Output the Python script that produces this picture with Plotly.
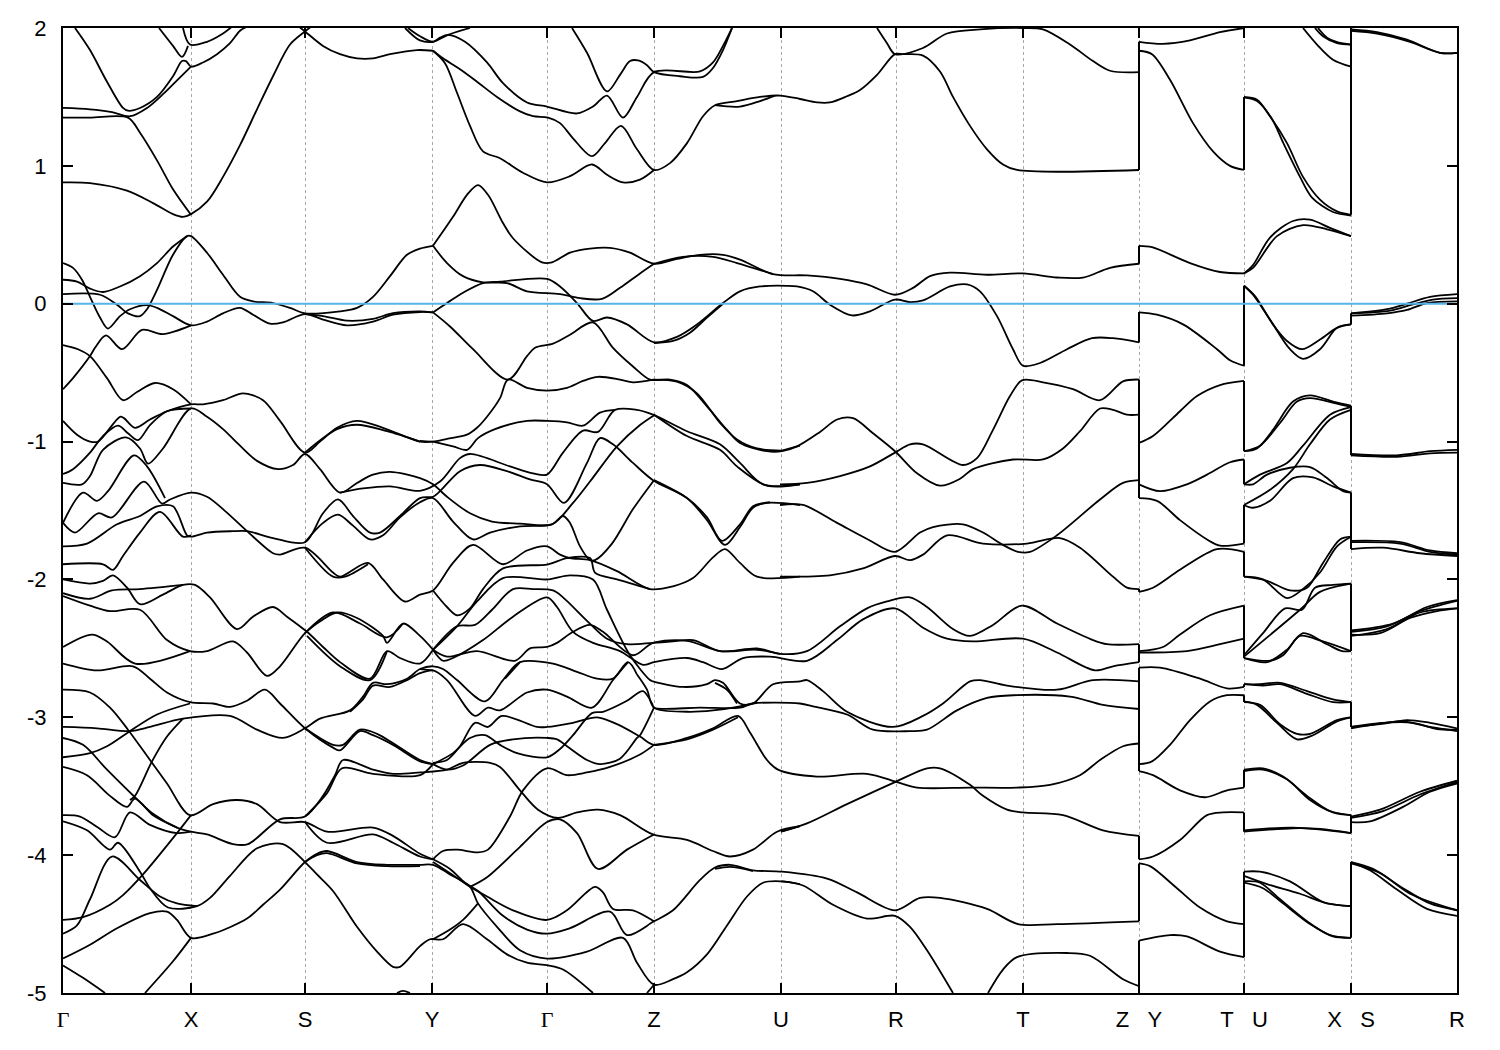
import plotly.graph_objects as go

# k-path positions of the high-symmetry points and their labels
k_ticks = [63, 191, 305, 432, 547, 654, 781, 896, 1023, 1139, 1244, 1351, 1457]
GAP = "\u00a0\u00a0\u00a0"
k_labels = ['<span style="font-family:Liberation Serif">Γ</span>', "X", "S", "Y",
            '<span style="font-family:Liberation Serif">Γ</span>', "Z", "U", "R", "T",
            "Z" + GAP + "Y", "T" + GAP + "U", "X" + GAP + "S", "R"]
e_ticks = [2, 1, 0, -1, -2, -3, -4, -5]
e_labels = ["2", "1", "0", "-1", "-2", "-3", "-4", "-5"]

# --- Gamma-X-S-Y, upper bands
band_001 = [(75,2.0),(90,1.84),(107,1.61),(123,1.42),(128,1.40),(140,1.42),(157,1.50),(173,1.65),(182,1.76),(186,1.76),(191,1.72),(203,1.75),(217,1.81),(230,1.89),(240,1.98),(247,2.01)]
band_002 = [(63,1.42),(90,1.41),(112,1.39),(130,1.36),(147,1.42),(163,1.52),(177,1.62),(191,1.72)]
band_003 = [(63,1.35),(90,1.35),(128,1.35),(140,1.24),(157,1.04),(173,.83),(191,.645)]
band_004 = [(63,.88),(90,.875),(127,.82),(153,.73),(173,.65),(183,.63),(191,.65),(207,.74),(223,.92),(240,1.15),(257,1.41),(273,1.65),(290,1.88),(305,1.975),(313,2.02)]
band_005 = [(297,2.02),(305,1.975),(323,1.87),(340,1.81),(357,1.78),(373,1.78),(390,1.81),(417,1.84),(433,1.835)]
band_006 = [(159,2.0),(173,1.87),(182,1.79),(188,1.87)]
band_007 = [(183,2.0),(190,1.88),(207,1.90),(223,1.96),(232,2.01)]
# --- near the Fermi level
band_008 = [(63,.295),(73,.26),(82,.174),(90,.05),(100,-.10),(108,-.18),(120,-.09),(130,-.04),(147,-.01),(157,-.03),(173,-.09),(191,-.157),(207,-.13),(223,-.07),(240,-.03),(253,-.08),(270,-.145),(283,-.135),(305,-.075),(323,-.115),(347,-.157),(373,-.13),(393,-.08),(420,-.06),(433,-.063)]
band_009 = [(305,-.075),(323,-.09),(347,-.123),(373,-.11),(393,-.068),(420,-.055),(433,-.063)]
band_010 = [(63,.07),(100,.065),(117,-.007),(128,-.07),(140,-.09),(147,-.04),(157,.10),(173,.355),(187,.49),(191,.49),(207,.37),(223,.21),(240,.05),(253,.017),(273,.005),(290,-.03),(305,-.07),(340,-.055),(357,-.03),(373,.05),(390,.2),(407,.355),(420,.40),(433,.42)]
band_011 = [(63,.174),(77,.16),(90,.11),(103,.085),(120,.125),(140,.2),(157,.295),(173,.415),(187,.49)]
band_012 = [(63,-.30),(78,-.33),(90,-.38),(107,-.54),(123,-.70),(137,-.64),(155,-.575),(173,-.62),(191,-.73)]
band_013 = [(63,-.62),(73,-.54),(90,-.38),(95,-.32),(106,-.23),(122,-.33),(142,-.19),(163,-.22),(191,-.157)]
# --- Gamma-X-S-Y, valence
band_014 = [(63,-.85),(77,-.95),(90,-1.0),(98,-1.0),(120,-.82),(124,-.83),(135,-.90),(150,-.84),(167,-.78),(191,-.73),(203,-.73),(223,-.70),(243,-.65),(263,-.70),(280,-.85),(305,-1.08),(320,-1.0),(337,-.90),(357,-.85),(383,-.90),(420,-1.0),(433,-1.0)]
band_015 = [(305,-1.08),(337,-.91),(357,-.878),(387,-.925),(420,-1.0)]
band_016 = [(63,-1.235),(73,-1.2),(90,-1.08),(103,-.96),(118,-.885),(128,-.94),(138,-.99),(150,-.88),(167,-.78),(191,-.76)]
band_017 = [(63,-1.30),(82,-1.31),(90,-1.25),(103,-1.06),(126,-.97),(140,-1.05),(148,-1.16),(163,-1.05),(191,-.76),(207,-.82),(223,-.91),(240,-1.03),(257,-1.14),(278,-1.20),(293,-1.17),(305,-1.09),(320,-1.2),(340,-1.37),(357,-1.30),(373,-1.24),(390,-1.22),(420,-1.265),(433,-1.31),(447,-1.40),(470,-1.52),(492,-1.58),(520,-1.595),(552,-1.60),(573,-1.445),(590,-1.29),(617,-1.035),(640,-.88),(655,-.805)]
band_018 = [(340,-1.37),(363,-1.34),(390,-1.325),(420,-1.357),(440,-1.29),(460,-1.12),(470,-1.09),(510,-1.18),(533,-1.23),(547,-1.24),(563,-1.08),(583,-.92),(598,-.93),(615,-.77),(637,-.77),(653,-.805),(687,-.925),(720,-1.02),(740,-1.155),(763,-1.31),(800,-1.31)]
band_019 = [(63,-1.59),(83,-1.37),(97,-1.43),(108,-1.36),(134,-1.10),(147,-1.18),(165,-1.41)]
band_020 = [(63,-1.59),(75,-1.66),(98,-1.52),(112,-1.55),(144,-1.29),(162,-1.45),(170,-1.42),(191,-1.37),(207,-1.40),(223,-1.49),(247,-1.65),(273,-1.81),(280,-1.82),(305,-1.77),(333,-1.95),(340,-1.98),(368,-1.88),(383,-2.0),(405,-2.16),(420,-2.11),(433,-2.08),(453,-1.88),(473,-1.75),(503,-1.89),(527,-1.79),(547,-1.76),(560,-1.82),(570,-1.845),(590,-1.86),(617,-1.94),(650,-2.07),(673,-2.05),(693,-1.99),(713,-1.84),(725,-1.78),(740,-1.88),(757,-1.98),(800,-1.98)]
band_021 = [(63,-1.76),(87,-1.74),(117,-1.60),(140,-1.54),(157,-1.47),(173,-1.47),(187,-1.68),(191,-1.69),(207,-1.66),(233,-1.65),(247,-1.65),(273,-1.70),(305,-1.73),(323,-1.52),(338,-1.42),(353,-1.54),(370,-1.66),(380,-1.66),(400,-1.54),(420,-1.41),(433,-1.40),(440,-1.36),(460,-1.215),(480,-1.17),(507,-1.215),(530,-1.275),(547,-1.31),(564,-1.445),(587,-1.155),(600,-.975),(613,-1.02),(633,-1.155),(653,-1.28),(687,-1.41),(707,-1.57),(725,-1.75),(740,-1.62),(753,-1.48),(767,-1.445),(800,-1.46)]
band_022 = [(63,-1.89),(103,-1.89),(113,-1.93),(123,-1.83),(140,-1.66),(160,-1.51),(183,-1.69),(191,-1.68)]
band_023 = [(305,-1.73),(323,-1.59),(338,-1.53),(353,-1.61),(370,-1.71),(383,-1.68),(400,-1.55),(420,-1.44),(433,-1.41),(453,-1.58),(473,-1.71),(490,-1.66),(520,-1.615),(552,-1.60),(563,-1.54),(570,-1.59),(580,-1.76),(590,-1.86),(595,-1.86),(612,-1.74),(633,-1.49),(654,-1.28)]
band_024 = [(305,-1.77),(333,-1.98),(345,-1.98),(368,-1.89)]
band_025 = [(63,-2.0),(90,-2.03),(103,-2.01),(113,-1.97),(127,-2.06),(140,-2.18),(163,-2.11),(183,-2.04),(195,-2.04),(210,-2.13),(237,-2.36),(253,-2.27),(273,-2.2),(287,-2.27),(307,-2.38),(323,-2.49),(340,-2.6),(370,-2.72),(387,-2.52),(400,-2.57),(420,-2.61),(433,-2.51)]
band_026 = [(63,-2.10),(90,-2.14),(112,-2.08),(140,-2.07),(183,-2.04)]
band_027 = [(63,-2.12),(90,-2.19),(110,-2.23),(140,-2.22),(167,-2.44),(190,-2.52),(207,-2.52),(233,-2.45),(247,-2.53),(267,-2.70),(280,-2.63),(305,-2.39),(323,-2.29),(337,-2.24),(357,-2.28),(383,-2.41),(387,-2.46),(403,-2.32),(420,-2.41),(433,-2.51)]
band_028 = [(305,-2.39),(333,-2.24),(360,-2.32),(387,-2.42),(403,-2.32)]
band_029 = [(307,-2.41),(340,-2.63),(370,-2.73),(387,-2.52)]
band_030 = [(63,-2.49),(92,-2.40),(107,-2.45),(135,-2.61),(190,-2.52)]
band_031 = [(63,-2.61),(97,-2.66),(133,-2.63),(150,-2.72),(167,-2.82),(190,-2.89),(213,-2.90),(230,-2.925),(247,-2.88),(265,-2.80),(280,-2.90),(305,-3.08),(333,-3.22),(340,-3.24),(360,-3.10),(373,-3.13),(393,-3.2),(420,-3.32),(433,-3.34)]
band_032 = [(305,-3.08),(333,-3.2),(343,-3.2),(360,-3.09),(377,-3.12),(420,-3.31),(433,-3.34)]
band_033 = [(63,-2.80),(90,-2.82),(110,-2.93),(128,-3.09),(150,-3.31),(167,-3.48),(190,-3.71),(213,-3.63),(237,-3.60),(257,-3.63),(280,-3.76),(305,-3.76),(327,-3.83),(373,-3.80),(393,-3.86),(420,-3.99),(433,-4.03)]
band_034 = [(305,-3.76),(327,-3.91),(373,-3.85),(393,-3.91),(420,-4.01),(433,-4.03)]
band_035 = [(63,-3.07),(97,-3.08),(130,-3.10),(150,-3.07),(183,-3.01),(230,-2.99),(257,-3.09),(283,-3.15),(305,-3.08),(320,-3.01),(350,-2.95),(363,-2.85),(373,-2.75),(387,-2.76),(407,-2.72),(420,-2.65),(433,-2.63),(443,-2.65),(457,-2.73),(485,-2.885),(503,-2.73),(520,-2.6),(553,-2.61),(577,-2.67),(597,-2.72),(613,-2.72),(628,-2.6),(637,-2.69)]
band_036 = [(350,-2.96),(363,-2.87),(373,-2.77),(390,-2.78),(407,-2.73),(420,-2.68),(433,-2.66),(447,-2.73),(475,-2.99),(488,-2.93),(500,-2.95),(527,-2.82),(547,-2.80),(567,-2.85),(592,-2.93),(613,-2.73),(628,-2.6)]
band_037 = [(63,-3.15),(83,-3.2),(107,-3.38),(135,-3.58),(153,-3.70),(177,-3.80),(191,-3.83),(207,-3.85),(233,-3.92),(248,-3.92),(280,-3.74),(305,-3.72),(323,-3.57),(335,-3.42),(343,-3.31),(373,-3.38),(393,-3.41),(420,-3.40),(447,-3.38),(463,-3.33),(490,-3.33),(500,-3.36),(520,-3.53),(538,-3.67),(558,-3.73),(577,-3.69),(598,-3.67),(620,-3.71),(653,-3.85),(687,-3.89),(713,-3.97),(730,-4.01),(753,-3.96),(777,-3.83),(800,-3.79)]
band_038 = [(305,-3.72),(327,-3.55),(342,-3.37),(373,-3.41),(420,-3.42),(433,-3.34)]
band_039 = [(63,-3.29),(90,-3.26),(107,-3.21),(128,-3.11),(157,-2.98),(190,-2.90)]
band_040 = [(63,-3.36),(87,-3.42),(110,-3.57),(127,-3.65),(135,-3.59),(153,-3.71),(177,-3.80)]
band_041 = [(130,-3.60),(135,-3.57),(152,-3.32),(167,-3.14),(183,-3.01)]
band_042 = [(63,-3.71),(80,-3.72),(98,-3.80),(115,-3.87),(130,-3.69),(150,-3.78),(177,-3.84),(191,-3.83)]
band_043 = [(63,-3.755),(87,-3.82),(110,-3.96),(118,-3.91),(140,-4.12),(150,-4.24),(168,-4.38),(197,-4.37),(210,-4.31),(230,-4.15),(257,-3.95),(283,-3.92),(305,-4.05),(317,-4.14),(333,-4.26),(357,-4.52),(377,-4.70),(393,-4.81),(400,-4.81),(420,-4.66),(430,-4.61),(443,-4.61),(463,-4.50),(487,-4.61),(507,-4.72),(527,-4.78),(548,-4.80),(563,-4.83),(593,-5.0)]
band_044 = [(63,-4.57),(77,-4.51),(90,-4.32),(112,-4.01),(140,-4.18),(160,-4.30),(177,-4.35),(197,-4.37)]
band_045 = [(63,-4.47),(83,-4.45),(110,-4.36),(123,-4.29),(143,-4.14),(177,-3.84),(191,-3.71)]
band_046 = [(63,-4.75),(90,-4.65),(117,-4.53),(150,-4.42),(167,-4.41),(177,-4.47),(191,-4.60),(213,-4.57),(247,-4.46),(263,-4.36),(280,-4.25),(305,-4.05),(317,-3.99),(327,-3.97),(357,-4.05),(387,-4.07),(420,-4.07),(433,-4.07),(450,-4.14),(470,-4.23),(478,-4.35),(497,-4.52),(520,-4.69),(547,-4.75),(587,-4.70),(623,-4.6),(637,-4.78),(654,-4.94),(673,-4.90),(687,-4.85),(707,-4.72),(727,-4.51),(747,-4.30),(763,-4.20),(782,-4.19),(800,-4.21)]
band_047 = [(305,-4.05),(317,-4.0),(327,-3.985),(357,-4.06),(387,-4.08),(420,-4.08)]
band_048 = [(63,-4.80),(83,-4.89),(105,-5.0)]
band_049 = [(145,-5.0),(173,-4.77),(191,-4.60)]
band_050 = [(397,-5.0),(403,-4.985),(410,-5.0)]
# --- Y-Gamma-Z-U
band_051 = [(408,2.0),(420,1.94),(433,1.90),(440,1.93),(448,1.95),(465,1.90),(487,1.75),(503,1.60),(527,1.46),(547,1.43),(577,1.38),(593,1.43),(607,1.51),(623,1.35),(637,1.50),(654,1.68),(700,1.685),(713,1.75),(723,1.87),(732,2.0)]
band_052 = [(405,2.0),(420,1.91),(433,1.90),(448,1.95),(470,2.0)]
band_053 = [(433,1.835),(443,1.78),(460,1.70),(477,1.61),(497,1.50),(520,1.395),(533,1.36),(548,1.35),(560,1.31),(573,1.20),(592,1.07),(605,1.165),(621,1.29),(637,1.12),(654,.97),(670,1.02),(687,1.165),(703,1.36),(715,1.44),(737,1.47),(760,1.50),(780,1.51),(800,1.485),(817,1.46),(830,1.46),(847,1.505),(860,1.55),(877,1.66),(895,1.81),(903,1.81),(923,1.80),(940,1.685),(953,1.50),(970,1.29),(987,1.12),(1003,1.01),(1017,.97),(1139,.97)]
band_054 = [(715,1.44),(740,1.43),(760,1.47),(775,1.51)]
band_055 = [(433,1.835),(445,1.745),(457,1.53),(470,1.29),(483,1.105),(500,1.055),(523,.95),(547,.88),(570,.925),(592,1.01),(607,.935),(623,.88),(640,.90),(654,.97)]
band_056 = [(572,2.0),(587,1.82),(607,1.54),(620,1.66),(630,1.76),(638,1.765),(647,1.73),(654,1.68),(680,1.65),(703,1.645),(713,1.71),(723,1.84),(732,2.0)]
band_057 = [(433,.42),(453,.63),(467,.79),(478,.86),(488,.79),(503,.585),(513,.475),(542,.30),(552,.30),(570,.37),(590,.40),(610,.405),(630,.37),(654,.29),(677,.325),(700,.355),(723,.355),(740,.32),(773,.215),(807,.205),(840,.18),(867,.14),(895,.065),(913,.115),(930,.2),(950,.225),(987,.21),(1023,.22),(1057,.19),(1083,.19),(1110,.26),(1139,.29)]
band_058 = [(654,.29),(683,.34),(713,.34),(737,.295),(773,.215)]
band_059 = [(433,.42),(447,.295),(463,.2),(483,.155),(507,.15),(527,.09),(560,.07),(580,.04),(602,.035),(620,.115),(640,.22),(654,.29)]
band_060 = [(433,-.063),(447,.005),(463,.08),(483,.15),(500,.16),(547,.18),(560,.125),(577,.005),(593,-.125),(607,-.10),(627,-.15),(654,-.28),(677,-.24),(697,-.15),(723,.005),(740,.09),(760,.125),(787,.13),(797,.125),(813,.09),(830,-.007),(852,-.085),(870,-.055),(895,.03),(910,.012),(923,.024),(950,.125),(967,.14),(980,.09),(997,-.09),(1013,-.33),(1023,-.45),(1040,-.43),(1067,-.33),(1092,-.25),(1113,-.25),(1139,-.28)]
band_061 = [(654,-.285),(673,-.27),(690,-.21),(707,-.10),(723,.0)]
band_062 = [(433,-.063),(450,-.165),(473,-.33),(508,-.55),(527,-.38),(535,-.32),(553,-.29),(570,-.225),(593,-.135),(613,-.32),(633,-.455),(650,-.55),(670,-.55),(687,-.59),(707,-.745),(727,-.915),(740,-1.01),(767,-1.07),(782,-1.07),(797,-1.035),(820,-.93),(837,-.84),(853,-.83),(873,-.94),(895,-1.07),(917,-1.23),(940,-1.32),(960,-1.27),(973,-1.20),(1013,-1.13),(1043,-1.13),(1063,-1.05),(1080,-.925),(1100,-.76),(1113,-.77),(1127,-.805),(1139,-.805)]
band_063 = [(653,-.55),(677,-.565),(697,-.65),(720,-.865),(737,-.985),(757,-1.05),(782,-1.065)]
band_064 = [(420,-.995),(433,-1.0),(447,-.98),(467,-.95),(477,-.90),(487,-.82),(500,-.685),(508,-.55),(527,-.61),(547,-.63),(567,-.61),(583,-.56),(598,-.53),(620,-.55),(633,-.57),(653,-.55)]
band_065 = [(433,-1.0),(453,-1.035),(467,-1.06),(478,-.975),(495,-.91),(527,-.85),(547,-.85),(567,-.86),(583,-.885),(600,-.79),(615,-.77)]
band_066 = [(654,-.805),(687,-.96),(720,-1.06),(737,-1.18),(767,-1.32),(800,-1.31)]
band_067 = [(654,-1.28),(687,-1.41),(707,-1.55),(722,-1.72),(740,-1.60),(753,-1.47),(770,-1.44)]
band_068 = [(420,-2.65),(433,-2.66)]
band_069 = [(433,-2.08),(447,-2.2),(457,-2.26),(470,-2.21),(483,-2.07),(503,-1.92),(548,-1.89),(567,-1.845),(590,-1.845),(595,-1.95),(617,-2.0),(650,-2.07)]
band_070 = [(433,-2.51),(457,-2.34),(477,-2.16),(503,-1.99),(547,-2.0),(570,-1.97),(593,-2.0),(607,-2.22),(630,-2.55),(650,-2.73),(653,-2.74),(683,-2.78),(707,-2.76),(715,-2.73),(723,-2.75),(740,-2.9),(753,-2.9),(773,-2.76),(800,-2.74),(807,-2.73),(823,-2.81),(847,-2.96),(893,-3.07),(923,-2.99),(943,-2.90),(970,-2.74),(980,-2.73),(1007,-2.77),(1057,-2.80),(1093,-2.73),(1139,-2.74)]
band_071 = [(433,-2.51),(457,-2.34),(475,-2.33),(492,-2.22),(513,-2.07),(533,-2.07),(553,-2.08),(563,-2.13),(587,-2.30),(607,-2.43),(627,-2.47),(653,-2.46),(673,-2.45),(693,-2.44),(720,-2.52),(757,-2.50),(780,-2.54),(807,-2.52),(840,-2.34),(867,-2.21),(887,-2.16),(910,-2.13),(927,-2.2),(953,-2.36),(970,-2.41),(993,-2.33),(1022,-2.19),(1057,-2.32),(1093,-2.44),(1107,-2.47),(1139,-2.47)]
band_072 = [(433,-2.51),(443,-2.59),(453,-2.57),(483,-2.44),(513,-2.27),(547,-2.13),(557,-2.2),(573,-2.38),(593,-2.46),(620,-2.52),(643,-2.62),(654,-2.60),(687,-2.57),(703,-2.6),(722,-2.65),(743,-2.57),(770,-2.56),(807,-2.59),(837,-2.44),(863,-2.29),(895,-2.21),(923,-2.35),(947,-2.43),(973,-2.45),(1023,-2.43),(1057,-2.53),(1095,-2.66),(1113,-2.63),(1139,-2.60)]
band_073 = [(433,-2.51),(447,-2.56),(477,-2.52),(515,-2.59),(530,-2.5),(547,-2.49),(557,-2.46),(573,-2.38),(590,-2.33),(603,-2.38),(633,-2.55),(653,-2.46),(687,-2.445),(720,-2.52),(757,-2.51),(780,-2.54)]
band_074 = [(505,-2.72),(520,-2.6)]
band_075 = [(433,-3.33),(447,-3.31),(460,-3.21),(475,-3.04),(488,-3.07),(502,-2.99),(537,-3.07),(547,-3.07),(573,-3.04),(597,-3.0),(617,-3.05),(640,-3.14),(654,-3.20),(687,-3.15),(713,-3.08),(738,-2.99),(750,-3.11),(767,-3.31),(778,-3.38),(817,-3.43),(867,-3.41),(897,-3.47),(917,-3.51),(970,-3.51),(1017,-3.51),(1050,-3.49),(1080,-3.42),(1100,-3.31),(1123,-3.21),(1139,-3.19)]
band_076 = [(433,-3.34),(453,-3.26),(470,-3.15),(485,-3.13),(500,-3.2),(517,-3.26),(547,-3.29),(560,-3.23),(573,-3.13),(592,-2.97),(603,-2.96),(627,-2.88),(643,-2.81),(652,-2.90),(654,-2.93),(700,-2.93),(740,-2.93),(753,-2.9),(800,-2.90),(813,-2.92),(847,-2.98),(873,-3.09),(910,-3.10),(927,-3.09),(957,-2.95),(987,-2.86),(1013,-2.84),(1070,-2.85),(1103,-2.91),(1139,-2.94)]
band_077 = [(433,-3.34),(447,-3.38),(463,-3.35),(490,-3.2),(513,-3.16),(547,-3.15),(557,-3.16),(567,-3.21),(587,-3.31),(600,-3.34),(620,-3.30),(637,-3.15),(640,-3.13),(654,-2.93)]
band_078 = [(637,-2.69),(647,-2.80),(654,-2.93),(687,-2.96),(713,-2.95),(740,-2.92),(757,-2.89)]
band_079 = [(433,-4.03),(443,-3.97),(457,-3.96),(478,-3.98),(488,-3.96),(510,-3.72),(523,-3.53),(547,-3.37),(567,-3.42),(587,-3.40),(610,-3.36),(640,-3.27),(654,-3.20)]
band_080 = [(470,-4.23),(487,-4.16),(520,-3.94),(547,-3.76),(560,-3.74),(577,-3.84),(598,-4.10),(627,-3.96),(654,-3.85)]
band_081 = [(433,-4.05),(458,-4.17),(470,-4.23),(487,-4.30),(513,-4.40),(547,-4.47),(567,-4.40),(595,-4.23),(603,-4.27),(613,-4.39),(633,-4.40),(654,-4.48)]
band_082 = [(433,-4.03),(450,-4.1),(465,-4.2),(478,-4.26),(503,-4.44),(527,-4.54),(547,-4.57),(570,-4.53),(610,-4.41),(627,-4.58),(654,-4.48),(673,-4.40),(700,-4.18),(715,-4.09),(730,-4.07),(753,-4.11),(782,-4.12),(827,-4.17),(857,-4.27),(895,-4.40),(920,-4.31),(940,-4.31),(987,-4.39),(1018,-4.50),(1057,-4.50),(1139,-4.48)]
band_083 = [(433,-4.61),(450,-4.54),(463,-4.47),(478,-4.35)]
band_084 = [(647,-5.0),(654,-4.94)]
band_085 = [(654,-3.20),(687,-3.16),(713,-3.09),(738,-3.0)]
band_086 = [(715,-2.75),(727,-2.8),(737,-2.9)]
band_087 = [(715,-4.10),(730,-4.085),(753,-4.115)]
band_088 = [(782,-4.19),(803,-4.22),(833,-4.36),(867,-4.46),(895,-4.44),(910,-4.52),(927,-4.69),(953,-5.0)]
# --- U-R-T-Z
band_089 = [(877,2.0),(887,1.89),(895,1.81),(923,1.855),(947,1.96),(980,1.99),(1023,2.0),(1043,1.99),(1070,1.88),(1093,1.76),(1110,1.69),(1139,1.68)]
band_090 = [(780,-1.31),(807,-1.30),(840,-1.25),(870,-1.18),(895,-1.08),(910,-1.02),(923,-1.02),(963,-1.17),(977,-1.12),(993,-.915),(1010,-.67),(1022,-.556),(1043,-.57),(1073,-.62),(1100,-.70),(1123,-.563),(1139,-.55)]
band_091 = [(780,-1.46),(803,-1.46),(837,-1.59),(868,-1.71),(895,-1.80),(920,-1.66),(933,-1.62),(963,-1.60),(983,-1.66),(1003,-1.75),(1018,-1.80),(1030,-1.80),(1057,-1.68),(1100,-1.42),(1123,-1.30),(1139,-1.28)]
band_092 = [(780,-1.98),(830,-1.97),(863,-1.92),(895,-1.83),(910,-1.86),(923,-1.82),(947,-1.68),(983,-1.74),(1027,-1.74),(1060,-1.70),(1080,-1.77),(1113,-1.98),(1127,-2.06),(1139,-2.07)]
band_094 = [(781,-3.83),(807,-3.77),(847,-3.63),(895,-3.47),(927,-3.37),(940,-3.37),(970,-3.49),(983,-3.57),(1007,-3.67),(1023,-3.69),(1063,-3.71),(1103,-3.82),(1139,-3.86)]
band_095 = [(800,-3.79),(781,-3.83)]
band_096 = [(800,-1.03),(780,-1.07)]
band_097 = [(988,-5.0),(1003,-4.83),(1017,-4.74),(1067,-4.71),(1090,-4.73),(1123,-4.90),(1139,-4.95)]
# --- Y-T
band_101 = [(1139,1.90),(1163,1.885),(1190,1.91),(1220,1.97),(1244,2.0)]
band_102 = [(1139,1.835),(1152,1.81),(1170,1.625),(1193,1.31),(1213,1.105),(1230,1.0),(1244,.97)]
band_103 = [(1139,.42),(1152,.41),(1190,.295),(1220,.23),(1244,.22)]
band_104 = [(1139,-.063),(1157,-.08),(1183,-.15),(1217,-.33),(1230,-.41),(1244,-.45)]
band_105 = [(1139,-1.01),(1153,-.96),(1180,-.78),(1197,-.67),(1220,-.59),(1244,-.56)]
band_106 = [(1139,-1.31),(1160,-1.36),(1187,-1.31),(1207,-1.24),(1230,-1.15),(1244,-1.13)]
band_107 = [(1139,-1.41),(1157,-1.43),(1180,-1.57),(1207,-1.71),(1220,-1.755),(1244,-1.74)]
band_108 = [(1139,-2.09),(1153,-2.06),(1180,-1.93),(1217,-1.78),(1244,-1.80)]
band_109 = [(1139,-2.52),(1163,-2.49),(1180,-2.40),(1210,-2.26),(1244,-2.19)]
band_110 = [(1139,-2.53),(1187,-2.52),(1220,-2.47),(1244,-2.43)]
band_111 = [(1139,-2.64),(1160,-2.64),(1200,-2.72),(1227,-2.79),(1244,-2.78)]
band_112 = [(1139,-3.34),(1152,-3.32),(1170,-3.2),(1190,-3.02),(1210,-2.885),(1227,-2.84),(1244,-2.84)]
band_113 = [(1139,-3.39),(1153,-3.42),(1180,-3.53),(1205,-3.58),(1227,-3.53),(1244,-3.51)]
band_114 = [(1139,-4.03),(1153,-4.01),(1180,-3.89),(1207,-3.71),(1223,-3.69),(1244,-3.69)]
band_115 = [(1139,-4.06),(1150,-4.08),(1177,-4.24),(1200,-4.38),(1227,-4.48),(1244,-4.50)]
band_116 = [(1139,-4.62),(1170,-4.58),(1187,-4.59),(1220,-4.70),(1244,-4.74)]
# --- U-X
band_121 = [(1303,2.0),(1317,1.88),(1333,1.77),(1351,1.72)]
band_122 = [(1315,2.0),(1323,1.94),(1337,1.89),(1351,1.88)]
band_123 = [(1318,2.0),(1327,1.93),(1338,1.895),(1351,1.88)]
band_124 = [(1244,1.50),(1257,1.48),(1270,1.36),(1287,1.165),(1303,.92),(1320,.755),(1337,.67),(1351,.645)]
band_125 = [(1244,1.495),(1257,1.47),(1272,1.34),(1283,1.17),(1300,.92),(1312,.77),(1333,.665),(1351,.64)]
band_126 = [(1244,.22),(1253,.28),(1270,.48),(1293,.60),(1310,.61),(1330,.55),(1351,.49)]
band_127 = [(1244,.22),(1253,.26),(1277,.49),(1303,.57),(1327,.54),(1351,.49)]
band_128 = [(1244,.13),(1253,.065),(1270,-.115),(1290,-.33),(1303,-.40),(1320,-.33),(1337,-.175),(1351,-.15)]
band_129 = [(1244,.13),(1255,.055),(1273,-.15),(1287,-.27),(1302,-.33),(1320,-.26),(1337,-.175),(1351,-.15)]
band_130 = [(1244,-1.07),(1257,-1.05),(1273,-.915),(1293,-.71),(1310,-.665),(1333,-.71),(1351,-.74)]
band_131 = [(1244,-1.07),(1260,-1.03),(1280,-.865),(1297,-.71),(1310,-.685),(1337,-.725),(1351,-.75)]
band_132 = [(1244,-1.31),(1260,-1.24),(1287,-1.155),(1303,-1.03),(1330,-.805),(1351,-.75)]
band_133 = [(1244,-1.31),(1253,-1.31),(1267,-1.24),(1290,-1.19),(1310,-1.185),(1327,-1.265),(1343,-1.36),(1351,-1.37)]
band_134 = [(1244,-1.46),(1270,-1.35),(1293,-1.2),(1310,-1.02),(1330,-.84),(1351,-.77)]
band_135 = [(1244,-1.46),(1253,-1.48),(1270,-1.43),(1293,-1.265),(1313,-1.26),(1333,-1.325),(1351,-1.37)]
band_136 = [(1244,-1.98),(1263,-2.0),(1287,-2.135),(1303,-2.07),(1320,-1.95),(1337,-1.76),(1351,-1.69)]
band_137 = [(1244,-1.98),(1267,-2.01),(1290,-2.08),(1307,-2.06),(1323,-1.88),(1340,-1.71),(1351,-1.69)]
band_138 = [(1244,-2.55),(1263,-2.39),(1285,-2.21),(1302,-2.22),(1315,-2.06),(1333,-2.04),(1351,-2.03)]
band_139 = [(1244,-2.56),(1300,-2.22),(1320,-2.09),(1351,-2.03)]
band_140 = [(1244,-2.57),(1270,-2.59),(1283,-2.55),(1303,-2.39),(1327,-2.47),(1342,-2.52),(1351,-2.52)]
band_141 = [(1244,-2.57),(1267,-2.60),(1287,-2.51),(1300,-2.41),(1323,-2.45),(1351,-2.52)]
band_142 = [(1244,-2.76),(1260,-2.76),(1280,-2.75),(1307,-2.81),(1333,-2.87),(1351,-2.89)]
band_143 = [(1244,-2.76),(1263,-2.77),(1280,-2.76),(1307,-2.83),(1333,-2.89),(1351,-2.89)]
band_144 = [(1244,-2.885),(1257,-2.91),(1277,-3.04),(1297,-3.16),(1313,-3.13),(1337,-3.03),(1351,-3.0)]
band_145 = [(1244,-2.89),(1260,-2.91),(1280,-3.05),(1297,-3.12),(1310,-3.12),(1337,-3.02),(1351,-3.0)]
band_146 = [(1244,-3.38),(1263,-3.37),(1283,-3.43),(1307,-3.57),(1330,-3.68),(1351,-3.71)]
band_147 = [(1244,-3.39),(1263,-3.38),(1287,-3.45),(1310,-3.60),(1333,-3.69),(1351,-3.71)]
band_148 = [(1244,-3.83),(1293,-3.805),(1320,-3.81),(1351,-3.84)]
band_149 = [(1244,-3.82),(1293,-3.80),(1351,-3.84)]
band_150 = [(1244,-4.12),(1260,-4.12),(1290,-4.19),(1323,-4.34),(1351,-4.37)]
band_151 = [(1244,-4.15),(1267,-4.21),(1300,-4.28),(1327,-4.35),(1351,-4.37)]
band_152 = [(1244,-4.19),(1260,-4.20),(1280,-4.32),(1307,-4.48),(1330,-4.58),(1351,-4.60)]
band_153 = [(1244,-4.20),(1263,-4.24),(1283,-4.35),(1310,-4.50),(1333,-4.59),(1351,-4.60)]
# --- S-R
band_161 = [(1351,1.99),(1377,1.97),(1407,1.915),(1440,1.82),(1457,1.82)]
band_162 = [(1351,1.98),(1377,1.96),(1410,1.90),(1440,1.82),(1457,1.82)]
band_163 = [(1351,-.07),(1387,-.04),(1407,0),(1430,.05),(1457,.07)]
band_164 = [(1351,-.07),(1390,-.05),(1413,-.005),(1433,.03),(1457,.04)]
band_165 = [(1351,-.087),(1387,-.07),(1407,-.045),(1427,.005),(1457,.017)]
band_166 = [(1351,-1.09),(1397,-1.10),(1430,-1.07),(1457,-1.06)]
band_167 = [(1351,-1.10),(1397,-1.11),(1430,-1.085),(1457,-1.08)]
band_168 = [(1351,-1.72),(1400,-1.73),(1430,-1.79),(1457,-1.81)]
band_169 = [(1351,-1.73),(1400,-1.74),(1430,-1.80),(1457,-1.82)]
band_170 = [(1351,-1.78),(1383,-1.77),(1420,-1.81),(1457,-1.83)]
band_171 = [(1351,-2.37),(1393,-2.32),(1427,-2.2),(1457,-2.15)]
band_172 = [(1351,-2.38),(1387,-2.34),(1420,-2.23),(1457,-2.155)]
band_173 = [(1351,-2.40),(1380,-2.39),(1410,-2.28),(1437,-2.23),(1457,-2.21)]
band_174 = [(1351,-2.41),(1387,-2.36),(1420,-2.24),(1457,-2.21)]
band_175 = [(1351,-3.07),(1380,-3.05),(1407,-3.02),(1430,-3.04),(1457,-3.08)]
band_176 = [(1351,-3.08),(1380,-3.045),(1403,-3.03),(1430,-3.07),(1457,-3.10)]
band_177 = [(1351,-3.07),(1383,-3.04),(1413,-3.04),(1437,-3.085),(1457,-3.09)]
band_178 = [(1351,-3.72),(1380,-3.67),(1420,-3.54),(1457,-3.46)]
band_179 = [(1351,-3.73),(1383,-3.68),(1420,-3.56),(1457,-3.47)]
band_180 = [(1351,-3.76),(1370,-3.755),(1403,-3.65),(1430,-3.54),(1457,-3.48)]
band_181 = [(1351,-4.05),(1373,-4.10),(1403,-4.24),(1430,-4.35),(1457,-4.40)]
band_182 = [(1351,-4.05),(1370,-4.11),(1397,-4.25),(1427,-4.39),(1457,-4.44)]
band_183 = [(1351,-4.06),(1380,-4.13),(1410,-4.28),(1457,-4.40)]

# discontinuities of the broken k-path: (k, upper energy, lower energy)
jump_z_y = [(1139,1.90,.97),(1139,.42,.29),(1139,-.06,-.28),(1139,-.55,-1.41),(1139,-2.07,-2.09),
            (1139,-2.47,-2.60),(1139,-2.64,-3.39),(1139,-3.86,-4.03),(1139,-4.06,-4.48),(1139,-4.62,-5)]
jump_t_u = [(1244,1.5,.97),(1244,.13,-.45),(1244,-.56,-1.07),(1244,-1.13,-1.31),(1244,-1.46,-1.74),
            (1244,-1.80,-1.98),(1244,-2.19,-2.57),(1244,-2.76,-2.78),(1244,-2.84,-2.89),
            (1244,-3.38,-3.51),(1244,-3.69,-3.83),(1244,-4.12,-4.74)]
jump_x_s = [(1351,1.99,.645),(1351,-.07,-.15),(1351,-.74,-1.10),(1351,-1.37,-1.78),(1351,-2.03,-2.52),
            (1351,-2.89,-3.07),(1351,-3.71,-3.84),(1351,-4.05,-4.60)]
fermi_k = [63, 1457]
fermi_e = [0, 0]

bands = [v for k, v in sorted(globals().items()) if k.startswith("band_")]

fig = go.Figure()
for band in bands:
    fig.add_trace(go.Scatter(x=[p[0] for p in band], y=[p[1] for p in band], mode="lines",
                             line=dict(color="black", width=1.8, shape="spline", smoothing=0.9),
                             hoverinfo="skip", showlegend=False))
for jumps in (jump_z_y, jump_t_u, jump_x_s):
    for k, e1, e2 in jumps:
        fig.add_trace(go.Scatter(x=[k, k], y=[e1, e2], mode="lines",
                                 line=dict(color="black", width=2),
                                 hoverinfo="skip", showlegend=False))
fig.add_trace(go.Scatter(x=fermi_k, y=fermi_e, mode="lines",
                         line=dict(color="#56B4E9", width=2),
                         hoverinfo="skip", showlegend=False))

fig.update_xaxes(range=[63, 1457], tickmode="array", tickvals=k_ticks, ticktext=k_labels,
                 ticks="inside", ticklen=10, tickwidth=1.5, tickcolor="black", automargin=False,
                 showline=True, linecolor="black", linewidth=2, mirror="allticks",
                 showgrid=True, gridcolor="#a8a8a8", griddash="3px,3px", gridwidth=1, zeroline=False,
                 tickfont=dict(family="Liberation Sans", size=22, color="black"), ticklabelstandoff=6)
fig.update_yaxes(range=[-5, 2], tickmode="array", tickvals=e_ticks, ticktext=e_labels,
                 ticks="inside", ticklen=10, tickwidth=1.5, tickcolor="black", automargin=False,
                 showline=True, linecolor="black", linewidth=2, mirror="allticks",
                 showgrid=False, zeroline=False,
                 tickfont=dict(family="Liberation Sans", size=22, color="black"), ticklabelstandoff=10)
fig.update_layout(width=1492, height=1042, autosize=False, plot_bgcolor="white", paper_bgcolor="white",
                  margin=dict(l=55, r=43, t=20, b=57), showlegend=False)
fig.write_html("out.html")
